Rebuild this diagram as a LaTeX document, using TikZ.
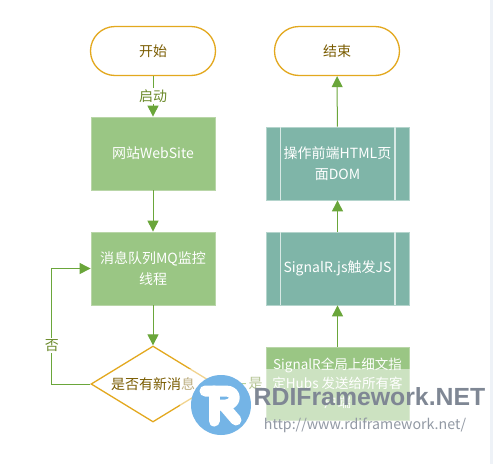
\documentclass[tikz,border=0pt]{standalone}
\usepackage{fontspec}
\setmainfont{Noto Sans CJK SC}
\setsansfont{Liberation Sans}
\usetikzlibrary{shapes.geometric,arrows.meta}
\definecolor{ambr}{HTML}{E3A81E}
\definecolor{grn}{HTML}{6AA63A}
\definecolor{gfill}{HTML}{9AC684}
\definecolor{gedge}{HTML}{B9D6A8}
\definecolor{tfill}{HTML}{7FB5A8}
\definecolor{tedge}{HTML}{B4D4CC}
\definecolor{dtxt}{HTML}{7A5C00}
\definecolor{ltxt}{HTML}{6B8A2A}
\definecolor{logoblue}{HTML}{74B4E6}
\definecolor{wmgray}{HTML}{7F8794}
\definecolor{edgestrip}{HTML}{EEF2F7}
\tikzset{
 term/.style={draw=ambr,line width=1.3pt,fill=white,rounded corners=24.5pt,minimum width=125pt,minimum height=49pt,inner sep=0pt,text=dtxt,font=\fontsize{14pt}{17pt}\selectfont},
 proc/.style={draw=gedge,line width=.8pt,fill=gfill,minimum width=124pt,minimum height=73pt,inner sep=0pt,text=white,align=center,font=\fontsize{14pt}{21pt}\selectfont},
 pred/.style={draw=tedge,line width=.8pt,fill=tfill,minimum width=143pt,minimum height=73pt,inner sep=0pt,text=white,align=center,font=\fontsize{14pt}{21pt}\selectfont},
 dec/.style={diamond,aspect=1.63,draw=ambr,line width=1.3pt,fill=white,minimum width=124pt,minimum height=76pt,inner sep=0pt,text=dtxt,font=\fontsize{14pt}{17pt}\selectfont},
 conn/.style={draw=grn,line width=1pt,-{Triangle[length=11pt,width=11pt,fill=grn]}},
 lab/.style={fill=white,inner sep=1.5pt,text=ltxt,font=\fontsize{14pt}{17pt}\selectfont},
}
\begin{document}
\begin{tikzpicture}[x=1pt,y=-1pt]
\useasboundingbox (0,0) rectangle (493,464);
\fill[white] (0,0) rectangle (493,464);
\fill[edgestrip] (490,0) rectangle (493,464);
\node[term] (start) at (153,51) {开始};
\node[proc] (site) at (153,153.5) {网站WebSite};
\node[proc] (mq) at (153,268.5) {消息队列MQ监控\\线程};
\node[dec] (check) at (153,384) {是否有新消息};
\node[term] (end) at (337,51) {结束};
\node[pred] (dom) at (337.5,163.5) {操作前端HTML页\\面DOM};
\node[pred] (js) at (337.5,268.5) {SignalR.js触发JS};
\node[proc,minimum width=143pt,font=\fontsize{13.5pt}{19pt}\selectfont] (hub) at (337.5,383.5) {SignalR全局上细文指\\定Hubs 发送给所有客\\户端};
\foreach \n in {dom,js}{
 \draw[white!70!tfill,line width=1.2pt] ([xshift=14.5pt]\n.north west) -- ([xshift=14.5pt]\n.south west);
 \draw[white!70!tfill,line width=1.2pt] ([xshift=-14.5pt]\n.north east) -- ([xshift=-14.5pt]\n.south east);
}
\draw[conn] (start) -- node[lab,pos=.5]{启动} (site);
\draw[conn] (site) -- (mq);
\draw[conn] (mq) -- (check);
\draw[conn] (check.west) -- ++(-38.5,0) |- node[lab,pos=.165]{否} (mq.west);
\draw[conn] (check.east) -- node[lab,pos=.8,inner xsep=3pt]{是} (hub.west);
\draw[conn] (hub) -- (js);
\draw[conn] (js) -- (dom);
\draw[conn] (dom) -- (end);
% watermark
\fill[white,opacity=.5] (180,369) rectangle (483,443);
\node[circle,fill=logoblue,minimum size=60pt,inner sep=0pt] (logo) at (221,405) {};
\draw[white,line width=11pt,line cap=round,line join=round] (205,391) -- (226,391) .. controls (237,391) and (237,404) .. (226,405) -- (216,405);
\draw[white,line width=11pt,line cap=round] (214,391) -- (214,421);
\draw[white,line width=11pt,line cap=round] (224,406) -- (236,420);
\node[text=wmgray,font=\sffamily\bfseries\fontsize{24.8pt}{28pt}\selectfont,inner sep=0pt,anchor=center] (brand) at (369.5,397) {RDIFramework.NET};
\node[text=wmgray!85,font=\fontsize{14.2pt}{16pt}\selectfont,inner sep=0pt] (url) at (365,425) {http://www.rdiframework.net/};
\end{tikzpicture}
\end{document}
